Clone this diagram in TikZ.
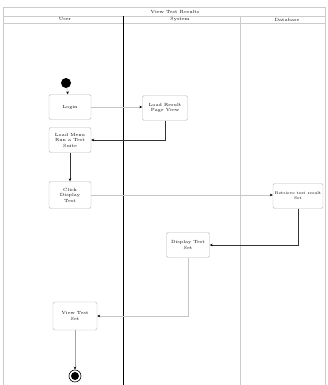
\documentclass[tikz,border=0pt]{standalone}
\usetikzlibrary{arrows.meta}
\begin{document}
\begin{tikzpicture}[x=1pt,y=-1pt,
  act/.style={draw=gray!55, rounded corners=1.5pt, minimum width=42pt, minimum height=25pt,
    align=center, font=\fontsize{4.5}{5.5}\selectfont, inner sep=1pt},
  flow/.style={-{Stealth[length=3pt,width=2.6pt,color=black]}, draw=black!80, line width=0.5pt},
  faint/.style={flow, draw=gray!45},
  lane/.style={draw=gray!40, line width=0.4pt},
  head/.style={font=\fontsize{4.5}{5.5}\selectfont}]
\useasboundingbox (0,0) rectangle (328,385);
% swimlanes
\draw[lane] (3,7) rectangle (325,385);
\draw[lane] (3,16) -- (325,16);
\draw[lane] (3,23) -- (325,23);
\draw[lane] (240,16) -- (240,385);
\draw[line width=1pt] (123,16) -- (123,385);
\node[head] (title) at (175,11.5) {View Test Results};
\node[head] (user) at (65,19.5) {User};
\node[head] (system) at (180,19.5) {System};
\node[head] (database) at (287,19.5) {Database};
% activities
\node[circle, fill=black, minimum size=10pt, inner sep=0pt] (start) at (66,83) {};
\node[act] (login) at (70,107) {Login};
\node[act, minimum width=45pt] (loadpage) at (165,108) {Load Result\\Page View};
\node[act] (menu) at (70,140) {Load Menu\\Run a Test\\Suite};
\node[act, minimum height=27pt] (click) at (70,195) {Click\\Display\\Test};
\node[act, minimum width=50pt, font=\fontsize{4}{5}\selectfont] (fetch) at (298,196) {Retrieve test result\\Set};
\node[act, minimum width=43pt] (display) at (188,245) {Display Test\\Set};
\node[act, minimum width=44pt, minimum height=28pt] (view) at (75,316) {View Test\\Set};
\node[circle, draw=black, line width=0.6pt, minimum size=12pt, inner sep=0pt] (end) at (75,376) {};
\fill[black] (end) circle (4pt);
% flows
\draw[faint] (start) -- (login);
\draw[faint] (login.east) -- (login.east -| loadpage.west);
\draw[flow] (loadpage.south) |- (menu.east);
\draw[flow] (menu) -- (click);
\draw[faint] (click.east) -- (click.east -| fetch.west);
\draw[flow] (fetch.south) |- (display.east);
\draw[faint] (display.south) |- (view.east);
\draw[flow, draw=gray!70] (view) -- (end);
\end{tikzpicture}
\end{document}
